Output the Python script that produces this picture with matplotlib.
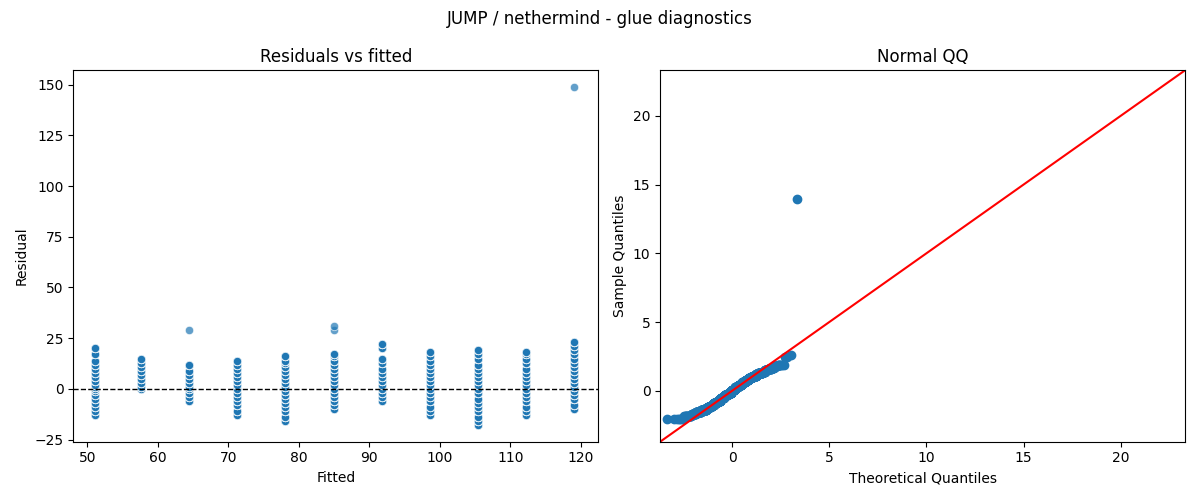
from statistics import NormalDist

import matplotlib
matplotlib.use("Agg")
import matplotlib.pyplot as plt
import numpy as np

# fitted level for each group and residual levels observed in that group
fitted_levels = [51.0, 57.6, 64.4, 71.2, 78.0, 85.0, 91.8, 98.6, 105.4, 112.2, 119.0]
residual_levels = [
    [-13, -11, -9, -7, -5, -3, -1, 0, 1, 2, 4, 6, 8, 10, 12, 14, 17, 20],
    [0, 1, 3, 5, 7, 9, 11, 13, 15],
    [-6, -4, -2, 0, 1, 3, 5, 7, 9, 12],
    [-13, -11, -8, -6, -4, -2, 0, 2, 4, 6, 8, 10, 12, 14],
    [-16, -14, -11, -9, -7, -5, -3, -1, 1, 3, 5, 7, 9, 11, 13, 14, 16],
    [-10, -8, -6, -4, -2, 0, 2, 4, 6, 8, 10, 12, 14, 16, 17],
    [-6, -4, -2, 0, 2, 4, 6, 8, 10, 13, 15, 20, 22],
    [-13, -11, -9, -6, -4, -2, 0, 2, 4, 6, 8, 10, 12, 14, 16, 18],
    [-18, -16, -14, -11, -9, -7, -5, -2, 0, 2, 4, 6, 8, 10, 12, 15, 17, 19],
    [-13, -11, -9, -6, -4, -2, 0, 2, 4, 6, 8, 10, 13, 15, 17, 18],
    [-10, -8, -5, -3, -1, 1, 3, 5, 7, 9, 11, 13, 15, 17, 19, 21, 23],
]
repeats_per_level = 7  # observations sharing each level
# single outlying observations (fitted, residual)
outlier_fitted = [64.4, 85.0, 85.0, 119.0]
outlier_resid = [29.0, 29.0, 31.0, 149.0]

fitted, resid = [], []
for f, levels in zip(fitted_levels, residual_levels):
    for r in levels:
        fitted += [f] * repeats_per_level
        resid += [r] * repeats_per_level
fitted = np.array(fitted + outlier_fitted, dtype=float)
resid = np.array(resid + outlier_resid, dtype=float)

# QQ
z = np.sort((resid - resid.mean()) / resid.std(ddof=1))
n = len(z)
nd = NormalDist()
theo = np.array([nd.inv_cdf((i + 1 - 0.5) / n) for i in range(n)])

fig, (ax1, ax2) = plt.subplots(1, 2, figsize=(12, 5))
fig.suptitle("JUMP / nethermind - glue diagnostics")

ax1.scatter(fitted, resid, s=36, color="#1f77b4", alpha=0.7,
            edgecolors="white", linewidths=0.6)
ax1.axhline(0, color="black", ls="--", lw=1)
ax1.set_xlim(48, 122.5)
ax1.set_ylim(-26, 157)
ax1.set_title("Residuals vs fitted")
ax1.set_xlabel("Fitted")
ax1.set_ylabel("Residual")

ax2.plot(theo, z, "o", color="#1f77b4", markersize=6)
lo, hi = -3.7, 23.3
ax2.plot([lo, hi], [lo, hi], color="red")
ax2.set_xlim(lo, hi)
ax2.set_ylim(lo, hi)
ax2.set_title("Normal QQ")
ax2.set_xlabel("Theoretical Quantiles")
ax2.set_ylabel("Sample Quantiles")

fig.tight_layout()
fig.savefig("out.png", dpi=100)
